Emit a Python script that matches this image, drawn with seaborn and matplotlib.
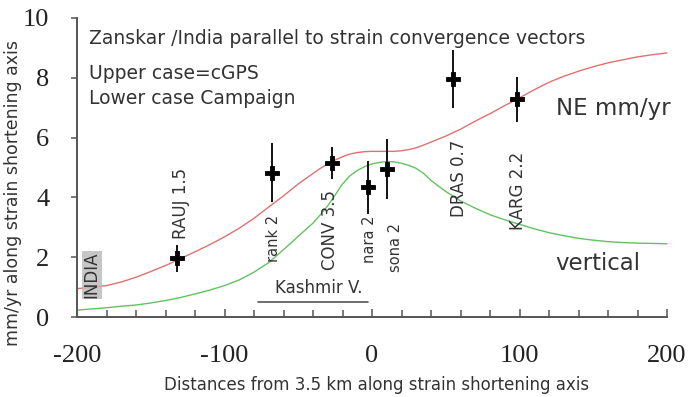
import numpy as np
import pandas as pd
import matplotlib
matplotlib.use("Agg")
import matplotlib.pyplot as plt
import seaborn as sns
from matplotlib.ticker import MultipleLocator

# ---- data ----
curve_x = [-200, -190, -180, -170, -160, -150, -140, -130, -120, -110, -100,
           -90, -80, -70, -60, -50, -40, -35, -30, -25, -20, -15, -10, -5, 0,
           5, 10, 15, 20, 25, 30, 35, 40, 45, 50, 60, 70, 80, 90, 100,
           110, 120, 130, 140, 150, 160, 170, 180, 190, 200]
ne_curve = [0.95, 0.99, 1.05, 1.17, 1.33, 1.52, 1.72, 1.95, 2.18, 2.42, 2.68,
            2.97, 3.30, 3.68, 4.05, 4.45, 4.80, 4.97, 5.12, 5.25, 5.36, 5.45, 5.50, 5.53, 5.54,
            5.54, 5.54, 5.54, 5.56, 5.60, 5.66, 5.75, 5.85, 5.95, 6.05, 6.28, 6.55, 6.80, 7.07, 7.33,
            7.60, 7.85, 8.05, 8.22, 8.37, 8.50, 8.60, 8.70, 8.77, 8.83]
vert_curve = [0.23, 0.27, 0.31, 0.36, 0.40, 0.47, 0.55, 0.65, 0.77, 0.90, 1.05,
              1.24, 1.50, 1.82, 2.25, 2.70, 3.14, 3.42, 3.72, 4.08, 4.45, 4.72, 4.90, 5.03, 5.12,
              5.17, 5.20, 5.19, 5.14, 5.07, 4.97, 4.80, 4.57, 4.38, 4.20, 3.88, 3.64, 3.42, 3.25, 3.10,
              2.95, 2.82, 2.72, 2.63, 2.57, 2.52, 2.49, 2.47, 2.46, 2.45]

station_x = [-132, -68, -27, -3, 10, 55, 98]
station_v = [1.96, 4.83, 5.14, 4.34, 4.94, 7.96, 7.28]
station_err = [0.45, 1.0, 0.53, 0.89, 1.0, 0.97, 0.75]

labels = ["INDIA", "RAUJ 1.5", "rank 2", "CONV 3.5", "nara 2", "sona 2", "DRAS 0.7", "KARG 2.2"]
label_x = [-190, -129.5, -66.5, -28.5, -2, 16, 59, 99]
label_y = [0.63, 2.6, 1.85, 1.57, 1.8, 1.5, 3.35, 2.9]

x_ticks = [-200, -100, 0, 100, 200]
y_ticks = [0, 2, 4, 6, 8, 10]

# ---- figure ----
sns.set_style("white")
plt.rcParams['font.family'] = ['DejaVu Sans']
plt.rcParams['axes.unicode_minus'] = False

fig = plt.figure(figsize=(6.91, 3.97), dpi=100)
ax = fig.add_axes([77/691, 1-317/397, 590/691, 299/397])

curves = pd.DataFrame({"x": curve_x, "ne": ne_curve, "vert": vert_curve})
sns.lineplot(data=curves, x="x", y="ne", ax=ax, color="#e37070", lw=1.0, clip_on=False)
sns.lineplot(data=curves, x="x", y="vert", ax=ax, color="#62c262", lw=1.0, clip_on=False)

pts = pd.DataFrame({"x": station_x, "v": station_v, "e": station_err})
ax.errorbar(pts["x"], pts["v"], yerr=pts["e"], fmt="none", ecolor="#111111", elinewidth=1.4, zorder=4)
sns.scatterplot(data=pts, x="x", y="v", ax=ax, marker="P", s=105, color="black",
                edgecolor="black", linewidth=0.6, zorder=5)

for lab, lx, ly in zip(labels, label_x, label_y):
    fs = 12 if lab[0].isupper() else 10.5
    kw = {}
    if lab == "INDIA":
        kw = dict(bbox=dict(boxstyle="square,pad=0.05", facecolor="#b8b8b8", edgecolor="none", alpha=0.8))
    ax.text(lx, ly, lab, rotation=90, ha="center", va="bottom", fontsize=fs,
            color="#333333", zorder=6, **kw)

# annotations
ax.text(-192, 9.33, "Zanskar /India parallel to strain convergence vectors", fontsize=13.5,
        color="#333333", ha="left", va="center")
ax.text(-192, 8.13, "Upper case=cGPS", fontsize=13.5, color="#333333", ha="left", va="center")
ax.text(-192, 7.32, "Lower case Campaign", fontsize=13.5, color="#333333", ha="left", va="center")
ax.text(125, 6.97, "NE mm/yr", fontsize=16.5, color="#333333", ha="left", va="center")
ax.text(124, 1.8, "vertical", fontsize=16.5, color="#333333", ha="left", va="center")

ax.plot([-77, -3], [0.5, 0.5], color="#555555", lw=1.2)
ax.text(-36, 0.97, "Kashmir V.", fontsize=12, color="#333333", ha="center", va="center")

# axes styling
ax.set_xlim(-200, 200)
ax.set_ylim(0, 10)
ax.set_xticks(x_ticks)
ax.set_yticks(y_ticks)
ax.xaxis.set_minor_locator(MultipleLocator(20))
for s in ["top", "right"]:
    ax.spines[s].set_visible(False)
for s in ["left", "bottom"]:
    ax.spines[s].set_color("#555555")
    ax.spines[s].set_linewidth(1.4)

ax.tick_params(axis="x", which="both", direction="in", color="#555555", width=1.1,
               labelsize=19, pad=20, bottom=True)
ax.tick_params(axis="x", which="major", length=6)
ax.tick_params(axis="x", which="minor", length=5)
ax.tick_params(axis="y", which="major", direction="out", length=4, width=1.1, color="#555555",
               labelsize=19, pad=16, left=True)
for t in ax.get_xticklabels() + ax.get_yticklabels():
    t.set_fontfamily("Liberation Serif")
    t.set_color("#222222")

ax.set_xlabel("Distances from 3.5 km along strain shortening axis", fontsize=12, color="#333333")
ax.set_ylabel("mm/yr along strain shortening axis", fontsize=12.5, color="#333333")
ax.xaxis.set_label_coords(0.508, -0.197)
ax.yaxis.set_label_coords(-0.093, 0.415)

fig.savefig("out.png", dpi=100, facecolor="white")
